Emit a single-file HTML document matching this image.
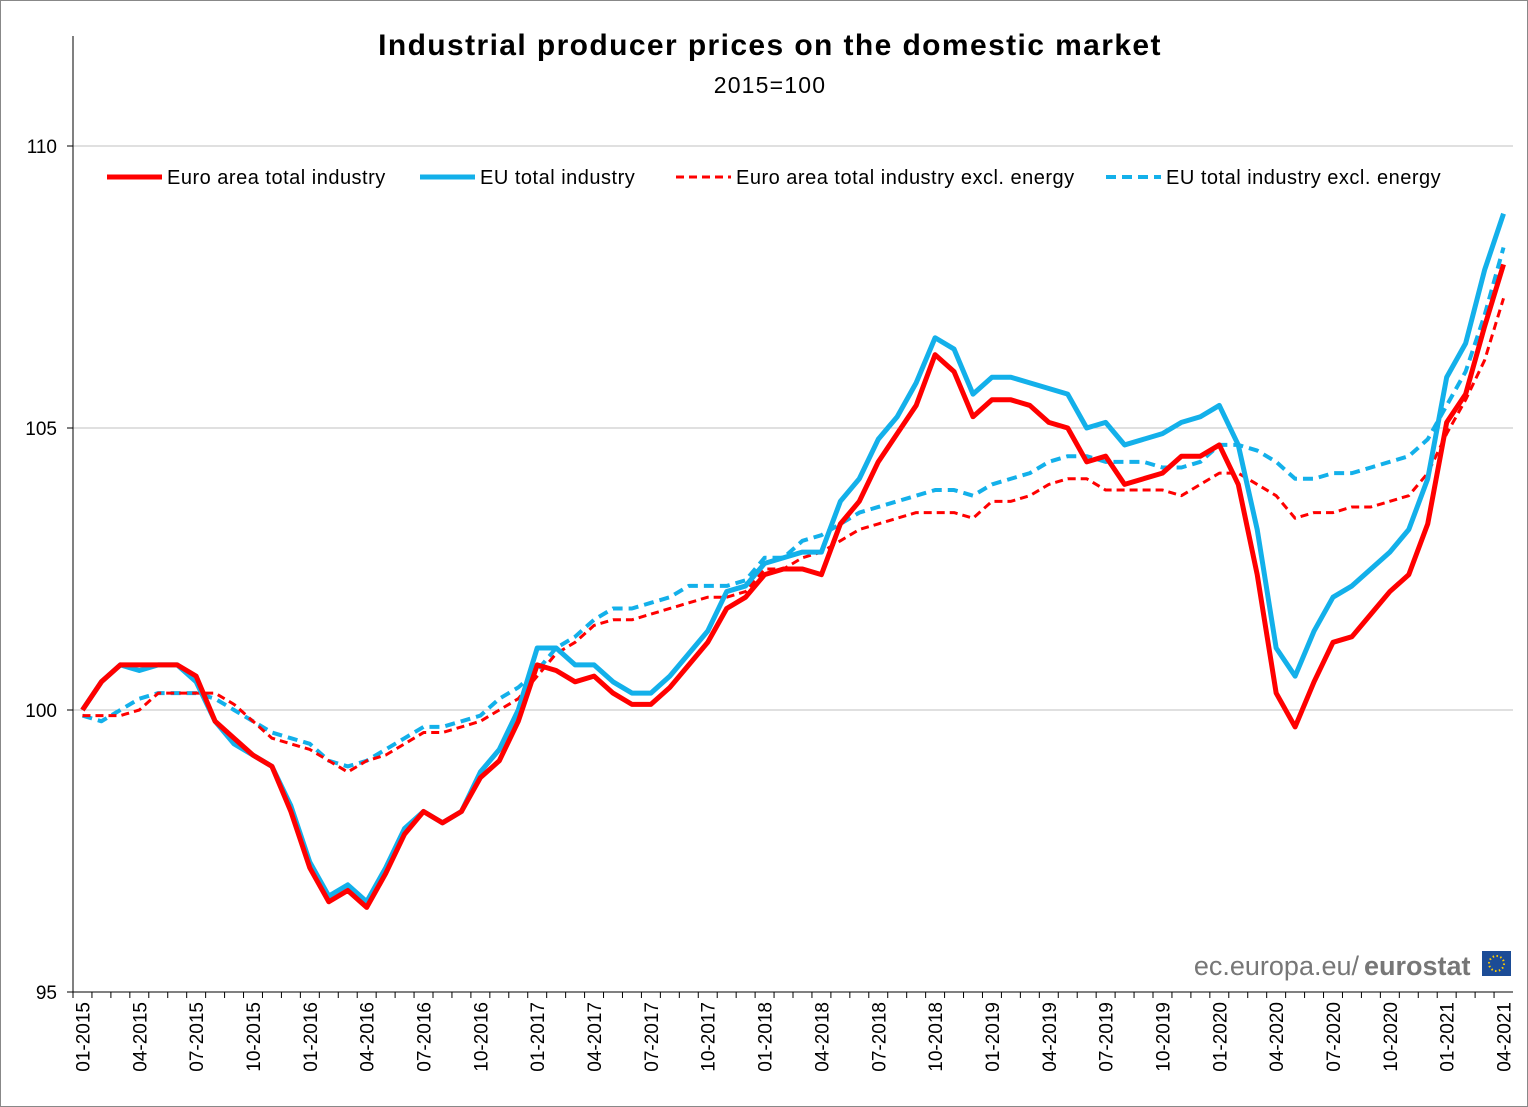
<!DOCTYPE html>
<html><head><meta charset="utf-8"><style>
body{margin:0;background:#fff;}
svg{display:block;font-family:"Liberation Sans",Arial,sans-serif;}
</style></head><body>
<svg id="chart" width="1528" height="1107">
<rect x="0.5" y="0.5" width="1527" height="1106" fill="#fff" stroke="#888"/>
<text x="770" y="55" text-anchor="middle" font-size="30" font-weight="bold" letter-spacing="1.4">Industrial producer prices on the domestic market</text>
<text x="770" y="93" text-anchor="middle" font-size="23" letter-spacing="1.2">2015=100</text>
<g id="grid"></g><g id="axes"></g><g id="series"></g>
<g letter-spacing="0.5">
<line x1="107" y1="177" x2="162" y2="177" stroke="#f00" stroke-width="5"/>
<text x="167" y="184" font-size="20">Euro area total industry</text>
<line x1="420" y1="177" x2="475" y2="177" stroke="#13b0ea" stroke-width="5"/>
<text x="480" y="184" font-size="20">EU total industry</text>
<line x1="676" y1="177" x2="731" y2="177" stroke="#f00" stroke-width="3" stroke-dasharray="8,5"/>
<text x="736" y="184" font-size="20">Euro area total industry excl. energy</text>
<line x1="1106" y1="177" x2="1161" y2="177" stroke="#13b0ea" stroke-width="4" stroke-dasharray="10,6"/>
<text x="1166" y="184" font-size="20">EU total industry excl. energy</text>
</g>
<g>
<text x="1359" y="975" text-anchor="end" font-size="27" fill="#777">ec.europa.eu/</text>
<text x="1364" y="975" font-size="27" font-weight="bold" fill="#777">eurostat</text>
<rect x="1482" y="951" width="29" height="25" fill="#1c4c96"/>
<circle cx="1496.5" cy="963.5" r="7.5" fill="none" stroke="#fc0" stroke-width="2" stroke-dasharray="1.5,2.4"/>
</g>
</svg>
<script>
const categories=[];(function(){for(let y=2015;y<=2021;y++)for(let m=1;m<=12;m++){if(y===2021&&m>4)break;categories.push(String(m).padStart(2,'0')+'-'+y);}})();
const yTicks=[95,100,105,110];
const euroTotal=[100.0,100.5,100.8,100.8,100.8,100.8,100.6,99.8,99.5,99.2,99.0,98.2,97.2,96.6,96.8,96.5,97.1,97.8,98.2,98.0,98.2,98.8,99.1,99.8,100.8,100.7,100.5,100.6,100.3,100.1,100.1,100.4,100.8,101.2,101.8,102.0,102.4,102.5,102.5,102.4,103.3,103.7,104.4,104.9,105.4,106.3,106.0,105.2,105.5,105.5,105.4,105.1,105.0,104.4,104.5,104.0,104.1,104.2,104.5,104.5,104.7,104.0,102.4,100.3,99.7,100.5,101.2,101.3,101.7,102.1,102.4,103.3,105.1,105.6,106.8,107.9];
const euTotal=[100.0,100.5,100.8,100.7,100.8,100.8,100.5,99.8,99.4,99.2,99.0,98.3,97.3,96.7,96.9,96.6,97.2,97.9,98.2,98.0,98.2,98.9,99.3,100.0,101.1,101.1,100.8,100.8,100.5,100.3,100.3,100.6,101.0,101.4,102.1,102.2,102.6,102.7,102.8,102.8,103.7,104.1,104.8,105.2,105.8,106.6,106.4,105.6,105.9,105.9,105.8,105.7,105.6,105.0,105.1,104.7,104.8,104.9,105.1,105.2,105.4,104.7,103.2,101.1,100.6,101.4,102.0,102.2,102.5,102.8,103.2,104.1,105.9,106.5,107.8,108.8];
const euroExcl=[99.9,99.9,99.9,100.0,100.3,100.3,100.3,100.3,100.1,99.8,99.5,99.4,99.3,99.1,98.9,99.1,99.2,99.4,99.6,99.6,99.7,99.8,100.0,100.2,100.6,101.0,101.2,101.5,101.6,101.6,101.7,101.8,101.9,102.0,102.0,102.1,102.5,102.5,102.7,102.8,103.0,103.2,103.3,103.4,103.5,103.5,103.5,103.4,103.7,103.7,103.8,104.0,104.1,104.1,103.9,103.9,103.9,103.9,103.8,104.0,104.2,104.2,104.0,103.8,103.4,103.5,103.5,103.6,103.6,103.7,103.8,104.2,104.9,105.5,106.2,107.3];
const euExcl=[99.9,99.8,100.0,100.2,100.3,100.3,100.3,100.2,100.0,99.8,99.6,99.5,99.4,99.1,99.0,99.1,99.3,99.5,99.7,99.7,99.8,99.9,100.2,100.4,100.7,101.1,101.3,101.6,101.8,101.8,101.9,102.0,102.2,102.2,102.2,102.3,102.7,102.7,103.0,103.1,103.3,103.5,103.6,103.7,103.8,103.9,103.9,103.8,104.0,104.1,104.2,104.4,104.5,104.5,104.4,104.4,104.4,104.3,104.3,104.4,104.7,104.7,104.6,104.4,104.1,104.1,104.2,104.2,104.3,104.4,104.5,104.8,105.4,106.0,107.0,108.2];

const NS='http://www.w3.org/2000/svg';
const L=73,R=1513,T=146,B=992,yMin=95,yMax=110;
const step=(R-L)/categories.length;
const xS=i=>L+step*(i+0.5);
const yS=v=>B-(v-yMin)/(yMax-yMin)*(B-T);
function mk(tag,attrs,parent){const e=document.createElementNS(NS,tag);for(const k in attrs)e.setAttribute(k,attrs[k]);parent.appendChild(e);return e;}
const grid=document.getElementById('grid'),axes=document.getElementById('axes'),ser=document.getElementById('series');
yTicks.forEach(v=>{
  if(v>yMin){const g=mk('line',{x1:L,x2:R,y1:yS(v),y2:yS(v),stroke:'#c0c0c0','stroke-width':1},grid);
  
  }
  const t=mk('text',{x:L-16,y:yS(v)+7,'text-anchor':'end','font-size':19},axes);t.textContent=v;
  
  
  mk('line',{x1:L-6,x2:L,y1:yS(v),y2:yS(v),stroke:'#000'},axes);
});
const ya=mk('line',{x1:L,x2:L,y1:T-110,y2:B,stroke:'#000'},axes);


const xa=mk('line',{x1:L,x2:R,y1:B,y2:B,stroke:'#000'},axes);


categories.forEach((c,i)=>{
  mk('line',{x1:L+step*i,x2:L+step*i,y1:B,y2:B+6,stroke:'#000'},axes);
  if(i%3===0){const x=xS(i)+7;const t=mk('text',{x:x,y:B+10,'text-anchor':'end','font-size':19,transform:`rotate(-90 ${x} ${B+10})`},axes);t.textContent=c;
  
  }
});
function line(data,color,w,dash,name){
  const p=mk('polyline',{points:data.map((v,i)=>xS(i)+','+yS(v)).join(' '),fill:'none',stroke:color,'stroke-width':w,'stroke-linejoin':'round'},ser);
  if(dash)p.setAttribute('stroke-dasharray',dash);
  
  
}
line(euExcl,'#13b0ea',4,'10,6','line-eu-excl-energy');
line(euroExcl,'#f00',3,'8,5','line-euro-excl-energy');
line(euTotal,'#13b0ea',5,null,'line-eu-total');
line(euroTotal,'#f00',5,null,'line-euro-total');
</script>
</body></html>
